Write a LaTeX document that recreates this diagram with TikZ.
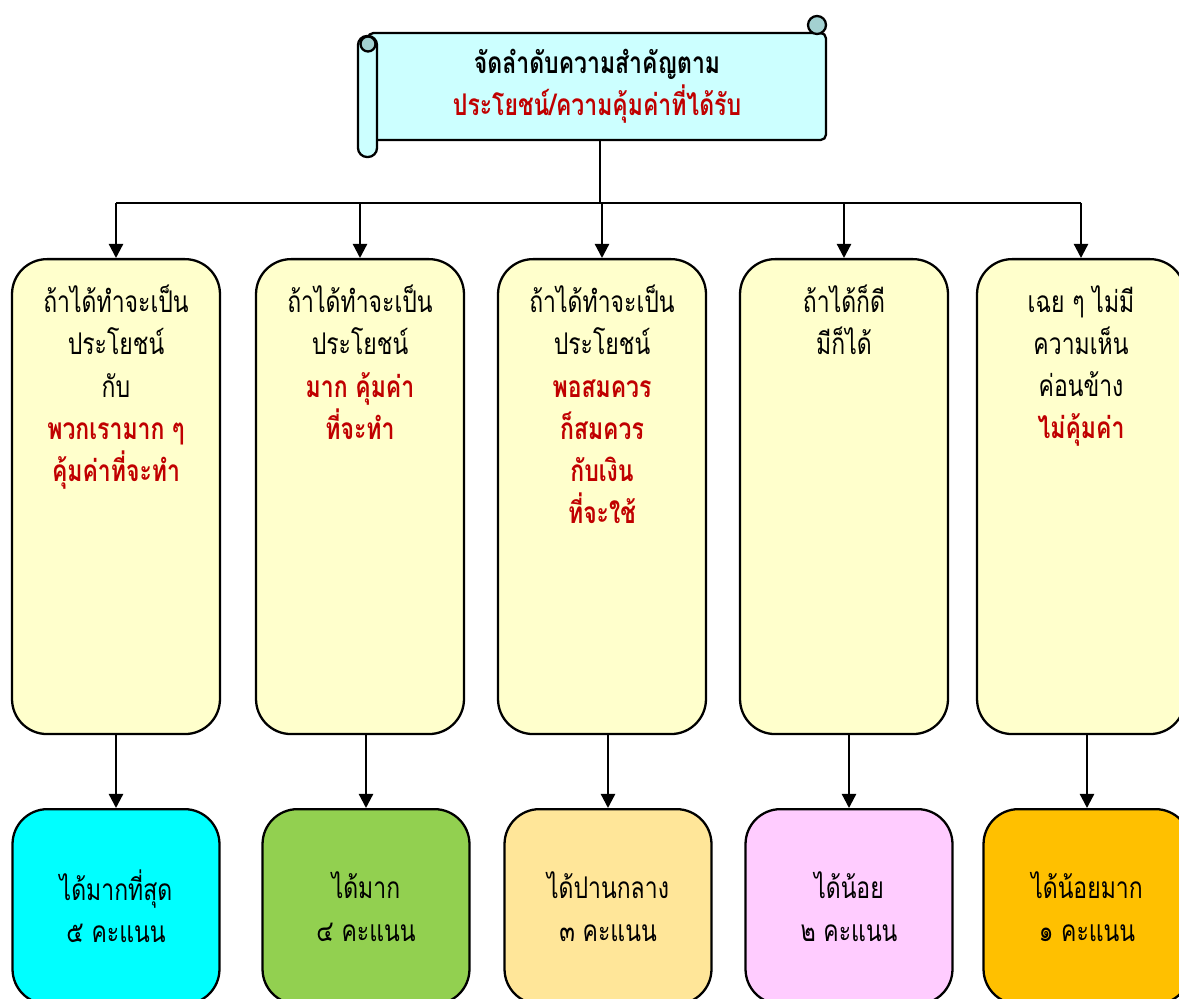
\documentclass[tikz,border=0pt]{standalone}
\usepackage{fontspec}
\newfontfamily\thaifont[Script=Thai, FakeStretch=0.77]{Loma}
\usetikzlibrary{arrows.meta,positioning}

\definecolor{scrollcyan}{HTML}{CCFFFF}
\definecolor{curlcyan}{HTML}{A3D1D1}
\definecolor{paleyellow}{HTML}{FFFFCC}
\definecolor{textred}{HTML}{C00000}
\definecolor{scorecyan}{HTML}{00FFFF}
\definecolor{scoregreen}{HTML}{92D050}
\definecolor{scoresand}{HTML}{FFE699}
\definecolor{scorepink}{HTML}{FFCCFF}
\definecolor{scoregold}{HTML}{FFC000}

\newcommand{\hl}[1]{\textcolor{textred}{\bfseries #1}}

\tikzset{
  line/.style={line width=1.3pt},
  arr/.style={line, -{Triangle[width=8pt,length=8pt]}},
  choicebox/.style={line, draw, fill=paleyellow, rounded corners=0.7cm,
    minimum width=4.16cm, minimum height=9.5cm, anchor=north},
  choicetext/.style={font=\thaifont\fontsize{17}{24}\selectfont,
    align=center, anchor=north},
  scorebox/.style={line, draw, rounded corners=0.7cm, minimum width=4.14cm,
    minimum height=3.9cm, anchor=north, align=center,
    font=\thaifont\fontsize{17}{24}\selectfont},
}

\begin{document}
\begin{tikzpicture}[x=0.02cm,y=-0.02cm]
  \clip (0,0) rectangle (1179,999);

  % scroll title
  \node[line, draw, fill=scrollcyan, rounded corners=3pt,
    minimum width=9.16cm, minimum height=2.14cm, align=center,
    font=\thaifont\bfseries\fontsize{17}{24}\selectfont]
    (title) at (597,86.5)
    {จัดลำดับความสำคัญตาม\\\textcolor{textred}{ประโยชน์/ความคุ้มค่าที่ได้รับ}};
  \filldraw[line, fill=scrollcyan, rounded corners=0.18cm]
    (358,36) rectangle (377,157);
  \filldraw[line, fill=curlcyan] (368,44) circle[radius=0.15cm];
  \filldraw[line, fill=curlcyan] (817,25) circle[radius=0.18cm];

  % choices
  \node[choicebox] (b1) at (116,258) {};
  \node[choicebox] (b2) at (360,258) {};
  \node[choicebox] (b3) at (602,258) {};
  \node[choicebox] (b4) at (844,258) {};
  \node[choicebox] (b5) at (1081,258) {};

  \node[choicetext, below=0.42cm of b1.north] (t1)
    {ถ้าได้ทำจะเป็น\\ประโยชน์\\กับ\\\hl{พวกเรามาก ๆ}\\\hl{คุ้มค่าที่จะทำ}};
  \node[choicetext, below=0.42cm of b2.north] (t2)
    {ถ้าได้ทำจะเป็น\\ประโยชน์\\\hl{มาก คุ้มค่า}\\\hl{ที่จะทำ}};
  \node[choicetext, below=0.42cm of b3.north] (t3)
    {ถ้าได้ทำจะเป็น\\ประโยชน์\\\hl{พอสมควร}\\\hl{ก็สมควร}\\\hl{กับเงิน}\\\hl{ที่จะใช้}};
  \node[choicetext, below=0.42cm of b4.north] (t4)
    {ถ้าได้ก็ดี\\มีก็ได้};
  \node[choicetext, below=0.42cm of b5.north] (t5)
    {เฉย ๆ ไม่มี\\ความเห็น\\ค่อนข้าง\\\hl{ไม่คุ้มค่า}};

  % scores
  \node[scorebox, fill=scorecyan] (s1) at (116,808) {ได้มากที่สุด\\๕ คะแนน};
  \node[scorebox, fill=scoregreen] (s2) at (366,808) {ได้มาก\\๔ คะแนน};
  \node[scorebox, fill=scoresand] (s3) at (608,808) {ได้ปานกลาง\\๓ คะแนน};
  \node[scorebox, fill=scorepink] (s4) at (849,808) {ได้น้อย\\๒ คะแนน};
  \node[scorebox, fill=scoregold] (s5) at (1087,808) {ได้น้อยมาก\\๑ คะแนน};

  % connectors
  \coordinate (bus) at (600,203);
  \draw[line] (bus |- title.south) -- (bus);
  \draw[line] (b1.north |- bus) -- (b5.north |- bus);
  \foreach \i in {1,...,5} {
    \draw[arr] (b\i.north |- bus) -- (b\i.north);
    \draw[arr] (s\i.north |- b\i.south) -- (s\i.north);
  }
\end{tikzpicture}
\end{document}
